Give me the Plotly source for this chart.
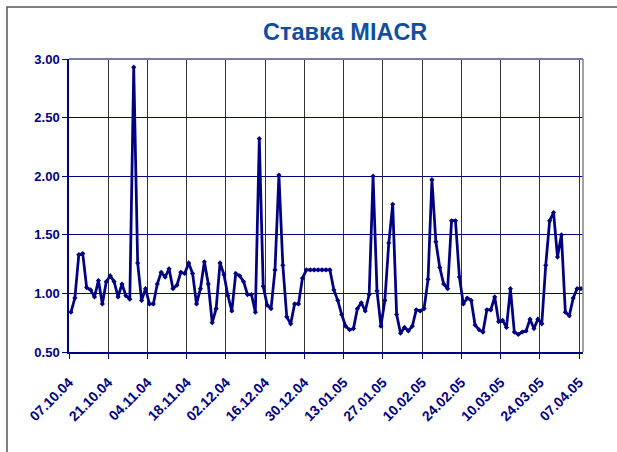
import plotly.graph_objects as go

tick_labels = ["07.10.04", "21.10.04", "04.11.04", "18.11.04", "02.12.04", "16.12.04",
               "30.12.04", "13.01.05", "27.01.05", "10.02.05", "24.02.05", "10.03.05",
               "24.03.05", "07.04.05"]

rate = [0.84, 0.96, 1.33, 1.34, 1.05, 1.03, 0.97, 1.11, 0.91, 1.10,
        1.15, 1.10, 0.97, 1.08, 0.98, 0.95, 2.93, 1.26, 0.94, 1.04,
        0.91, 0.91, 1.08, 1.18, 1.14, 1.21, 1.04, 1.07, 1.18, 1.17,
        1.26, 1.17, 0.91, 1.04, 1.27, 1.08, 0.75, 0.87, 1.26, 1.16,
        0.98, 0.85, 1.17, 1.15, 1.10, 0.99, 0.99, 0.84, 2.32, 1.06,
        0.90, 0.87, 1.20, 2.01, 1.24, 0.80, 0.74, 0.91, 0.91, 1.13,
        1.20, 1.20, 1.20, 1.20, 1.20, 1.20, 1.20, 1.03, 0.94, 0.82,
        0.72, 0.69, 0.70, 0.87, 0.92, 0.85, 0.99, 2.00, 1.02, 0.72,
        0.94, 1.43, 1.76, 0.82, 0.66, 0.71, 0.68, 0.72, 0.86, 0.85,
        0.87, 1.12, 1.97, 1.44, 1.22, 1.08, 1.04, 1.62, 1.62, 1.14,
        0.91, 0.96, 0.94, 0.73, 0.69, 0.67, 0.86, 0.86, 0.97, 0.76,
        0.77, 0.71, 1.04, 0.67, 0.65, 0.67, 0.68, 0.78, 0.70, 0.78,
        0.74, 1.24, 1.62, 1.69, 1.31, 1.50, 0.84, 0.81, 0.96, 1.04,
        1.04]

label_every = 10
x_idx = list(range(len(rate)))
tick_pos = [k * label_every - 0.5 for k in range(len(tick_labels))]

navy = "#000080"
font_family = "Arial, Liberation Sans, sans-serif"

fig = go.Figure()
fig.add_trace(go.Scatter(
    x=x_idx, y=rate, mode="lines+markers",
    line=dict(color=navy, width=2.75),
    marker=dict(color=navy, size=4, symbol="diamond"),
    hoverinfo="skip", showlegend=False,
))

W, H = 617, 452
L, R, T, B = 69, 34.3, 59, 100.3
pw, ph = W - L - R, H - T - B

fig.update_layout(
    width=W, height=H,
    margin=dict(l=L, r=R, t=T, b=B, pad=0, autoexpand=False),
    paper_bgcolor="white", plot_bgcolor="white",
    title=dict(text="<b>Ставка MIACR</b>", x=(345 - L) / pw, xref="paper",
               xanchor="center", y=1 - 32 / H, yanchor="middle",
               font=dict(family=font_family, size=23.5, color="#134E9C")),
    xaxis=dict(range=[-0.5, len(rate) - 0.5], tickmode="array",
               tickvals=tick_pos, ticktext=tick_labels, tickangle=-45,
               showgrid=True, gridcolor="#333333", gridwidth=1,
               showline=True, linecolor=navy, linewidth=1.5,
               ticks="outside", ticklen=5, tickcolor=navy,
               ticklabelstandoff=10,
               tickfont=dict(family=font_family, size=14, color=navy, weight="bold"),
               zeroline=False),
    yaxis=dict(range=[0.5, 3.0], dtick=0.5, tick0=0.5, tickformat=".2f",
               showgrid=True, gridcolor=navy, gridwidth=1,
               showline=True, linecolor=navy, linewidth=1.5,
               ticks="outside", ticklen=5, tickcolor=navy,
               tickfont=dict(family=font_family, size=13, color=navy, weight="bold"),
               zeroline=False),
    font=dict(family=font_family),
)

# plot area border (right & top gray)
fig.add_shape(type="line", xref="paper", yref="paper", x0=1, x1=1, y0=0, y1=1,
              line=dict(color="#808080", width=1.5))
fig.add_shape(type="line", xref="paper", yref="paper", x0=0, x1=1, y0=1, y1=1,
              line=dict(color="#7a7aa8", width=2))
# chart area border
fig.add_shape(type="rect", xref="paper", yref="paper",
              x0=(7 - L) / pw, x1=(W + 5 - L) / pw,
              y0=(H - B - (H + 5)) / ph, y1=(H - B - 7) / ph,
              line=dict(color="#555555", width=1.5), layer="below")

fig.write_html("out.html", config={"displayModeBar": False},
               post_script="document.body.style.margin='0';document.body.style.overflow='hidden';")
